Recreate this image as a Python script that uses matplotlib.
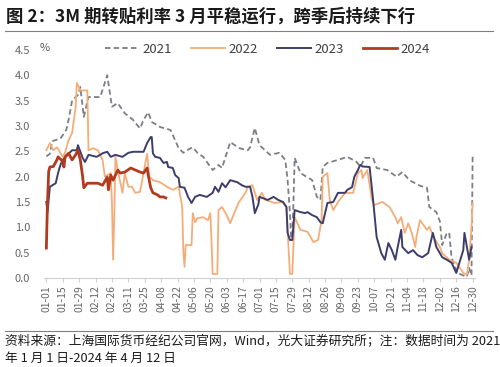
import matplotlib
matplotlib.use('Agg')
import matplotlib.pyplot as plt
from matplotlib.lines import Line2D

plt.rcParams['font.family'] = ['Noto Sans CJK SC', 'DejaVu Sans']

# day of year (0 = 01-01) and 3M 转贴现利率 (%)
days_2021 = [0, 3, 5, 12, 17, 19, 22, 25, 27, 29, 32, 36, 46, 52, 56, 61, 67, 74, 80, 83, 87, 90, 97,
             106, 108, 113, 117, 120, 125, 129, 134, 142, 147, 150, 157, 165, 172, 174, 178, 182, 191,
             199, 204, 206, 208, 209, 210, 211, 212, 217, 227, 231, 234, 236, 240, 249, 257, 265, 268,
             272, 279, 282, 291, 299, 304, 310, 319, 325, 327, 333, 336, 338, 342, 344, 346, 351, 359,
             361, 363, 364]
vals_2021 = [2.40, 2.45, 2.70, 2.75, 2.92, 3.12, 3.50, 3.57, 3.61, 3.77, 3.18, 3.57, 3.57, 4.00, 3.38,
             3.45, 3.25, 3.12, 2.95, 3.12, 3.27, 3.08, 2.98, 2.92, 2.82, 2.56, 2.47, 2.52, 2.58, 2.47,
             2.39, 2.13, 2.23, 2.17, 2.68, 2.56, 2.52, 2.58, 2.96, 2.62, 2.43, 2.47, 2.33, 1.93, 1.28,
             0.80, 0.80, 1.50, 2.37, 2.07, 1.93, 1.60, 1.54, 2.19, 2.27, 2.33, 2.39, 2.29, 2.19, 2.37,
             2.37, 2.17, 2.13, 2.00, 2.09, 1.93, 1.82, 1.78, 1.40, 1.30, 1.12, 0.65, 0.89, 0.89, 0.40,
             0.10, 0.02, 0.20, 0.05, 2.45]

days_2022 = [0, 3, 6, 9, 14, 16, 19, 22, 25, 26, 29, 35, 36, 40, 44, 48, 50, 55, 56, 57, 58, 59, 61,
             65, 67, 70, 73, 76, 80, 84, 86, 88, 91, 97, 103, 108, 113, 116, 117, 118, 119, 124, 125,
             127, 129, 134, 138, 140, 141, 142, 146, 147, 150, 154, 157, 159, 164, 170, 172, 176, 180,
             184, 187, 195, 202, 205, 207, 208, 210, 212, 217, 223, 228, 232, 235, 236, 240, 242, 245,
             249, 255, 262, 266, 269, 270, 274, 278, 280, 287, 293, 298, 300, 303, 306, 309, 312, 315,
             316, 319, 325, 327, 332, 336, 338, 344, 350, 356, 359, 361, 363, 364]
vals_2022 = [2.52, 2.66, 2.52, 2.58, 2.39, 2.47, 2.72, 2.86, 3.37, 3.85, 3.70, 3.70, 2.52, 2.56, 2.52,
             2.33, 2.00, 2.07, 1.50, 0.36, 1.20, 2.39, 2.13, 1.68, 2.07, 1.80, 1.80, 1.68, 1.70, 2.20,
             2.45, 2.00, 1.93, 1.89, 1.80, 1.74, 1.80, 1.40, 0.50, 0.22, 0.65, 0.65, 1.28, 1.10, 1.18,
             1.20, 1.14, 1.28, 0.75, 0.08, 0.08, 1.34, 1.40, 1.24, 1.08, 1.20, 1.48, 1.68, 1.80, 1.83,
             1.54, 1.68, 1.54, 1.48, 1.50, 1.40, 0.50, 0.08, 0.08, 1.20, 0.95, 0.91, 0.71, 0.75, 1.14,
             2.00, 2.07, 1.54, 1.34, 1.50, 1.68, 1.68, 2.07, 2.13, 1.97, 2.13, 1.54, 1.44, 1.50, 1.40,
             1.20, 1.08, 1.20, 0.89, 1.08, 0.89, 0.61, 0.81, 1.14, 0.95, 1.01, 0.75, 0.61, 0.49, 0.36,
             0.30, 0.10, 0.06, 0.36, 1.00, 1.48]

days_2023 = [0, 1, 3, 8, 10, 12, 14, 18, 22, 26, 27, 31, 33, 36, 43, 48, 52, 55, 59, 65, 70, 74, 83,
             86, 89, 90, 91, 93, 97, 100, 103, 104, 108, 110, 113, 114, 118, 121, 124, 127, 131, 137,
             142, 144, 147, 150, 153, 157, 163, 167, 170, 174, 176, 178, 181, 182, 189, 194, 198, 202,
             205, 206, 208, 210, 212, 217, 221, 223, 227, 231, 234, 236, 240, 245, 249, 255, 257, 261,
             263, 266, 268, 270, 276, 279, 282, 286, 289, 292, 295, 298, 300, 303, 304, 309, 313, 317,
             321, 326, 330, 333, 338, 342, 346, 350, 356, 357, 360, 361, 363]
vals_2023 = [1.50, 1.30, 1.80, 1.87, 2.07, 2.23, 2.33, 2.43, 2.52, 2.52, 2.62, 2.37, 2.29, 2.43, 2.39,
             2.46, 2.49, 2.39, 2.43, 2.39, 2.47, 2.49, 2.49, 2.66, 2.78, 2.78, 2.46, 2.39, 2.37, 2.27,
             2.29, 2.19, 2.17, 2.03, 1.97, 1.80, 1.78, 1.60, 1.48, 1.60, 1.64, 1.60, 1.68, 1.80, 1.70,
             1.87, 1.79, 1.93, 1.89, 1.83, 1.80, 1.80, 1.60, 1.28, 1.45, 1.60, 1.54, 1.60, 1.54, 1.50,
             1.40, 0.89, 0.75, 0.75, 1.34, 1.30, 1.28, 1.30, 1.24, 1.20, 1.10, 1.08, 1.48, 1.50, 1.68,
             1.68, 1.74, 1.79, 2.00, 2.13, 2.23, 2.20, 2.19, 1.54, 0.81, 0.49, 0.36, 0.69, 0.55, 0.36,
             0.61, 0.95, 0.61, 0.49, 0.55, 0.45, 0.41, 0.49, 0.89, 0.61, 0.41, 0.36, 0.30, 0.10, 0.55,
             0.89, 0.49, 0.36, 0.61]

days_2024 = [0, 1, 2, 3, 6, 9, 10, 14, 15, 16, 19, 22, 25, 27, 29, 31, 32, 35, 38, 44, 48, 52, 53, 55,
             57, 61, 63, 67, 72, 76, 80, 83, 86, 87, 89, 91, 95, 97, 100, 102]
vals_2024 = [0.59, 1.50, 2.10, 2.19, 2.20, 2.33, 2.39, 2.30, 2.19, 2.39, 2.46, 2.33, 2.43, 2.52, 2.33,
             2.00, 1.78, 1.87, 1.87, 1.87, 1.83, 1.99, 1.74, 2.03, 1.93, 2.13, 2.07, 2.09, 2.17, 2.13,
             2.09, 2.07, 2.17, 2.03, 1.79, 1.68, 1.64, 1.60, 1.60, 1.58]

tick_days = list(range(0, 365, 14))
tick_labels = ['01-01', '01-15', '01-29', '02-12', '02-26', '03-11', '03-25', '04-08', '04-22',
               '05-06', '05-20', '06-03', '06-17', '07-01', '07-15', '07-29', '08-12', '08-26',
               '09-09', '09-23', '10-07', '10-21', '11-04', '11-18', '12-02', '12-16', '12-30']

c21, c22, c23, c24 = '#7b7f86', '#f4ad79', '#3d3d6b', '#b23a1e'

fig = plt.figure(figsize=(5, 3.67), dpi=100)
ax = fig.add_axes([0.088, 0.2425, 0.862, 0.6215])

ax.plot(days_2021, vals_2021, color=c21, lw=1.3, linestyle=(0, (3, 1.8)))
ax.plot(days_2022, vals_2022, color=c22, lw=1.3)
ax.plot(days_2023, vals_2023, color=c23, lw=1.4)
ax.plot(days_2024, vals_2024, color=c24, lw=2.0)

ax.set_xlim(-2, 366)
ax.set_ylim(0, 4.5)
ax.set_yticks([0, 0.5, 1, 1.5, 2, 2.5, 3, 3.5, 4, 4.5])
ax.set_yticklabels(['0.0', '0.5', '1.0', '1.5', '2.0', '2.5', '3.0', '3.5', '4.0', '4.5'])
ax.set_xticks(tick_days)
ax.set_xticklabels(tick_labels, rotation=90)
ax.tick_params(axis='x', labelsize=7.5, colors='#666666', length=3, color='#d0d0d0', pad=2)
ax.tick_params(axis='y', labelsize=8, colors='#666666', length=0, pad=10)
for s in ['top', 'right', 'left']:
    ax.spines[s].set_visible(False)
ax.spines['bottom'].set_color('#d0d0d0')

fig.text(0.08, 0.870, '%', fontsize=8, color='#595959', va='center', ha='left')

handles = [Line2D([], [], color=c21, lw=1.3, linestyle=(0, (3, 1.8))),
           Line2D([], [], color=c22, lw=1.3),
           Line2D([], [], color=c23, lw=1.4),
           Line2D([], [], color=c24, lw=2.0)]
fig.legend(handles, ['2021', '2022', '2023', '2024'], loc='center', bbox_to_anchor=(0.535, 0.866),
           ncol=4, frameon=False, fontsize=9.5, handlelength=2.6, handletextpad=0.25,
           columnspacing=1.45, labelcolor='#404040')

fig.text(0.012, 0.955, '图 2：3M 期转贴利率 3 月平稳运行，跨季后持续下行',
         fontsize=12.5, fontweight='bold', color='#1a1a1a', va='center', ha='left')
fig.add_artist(Line2D([0.01, 0.986], [0.915, 0.915], color='#808080', lw=0.8))
fig.add_artist(Line2D([0.01, 0.986], [0.098, 0.098], color='#808080', lw=0.8))
fig.text(0.01, 0.072, '资料来源：上海国际货币经纪公司官网，Wind，光大证券研究所；注：数据时间为 2021',
         fontsize=9.2, color='#1a1a1a', va='center', ha='left')
fig.text(0.01, 0.024, '年 1 月 1 日-2024 年 4 月 12 日',
         fontsize=9.2, color='#1a1a1a', va='center', ha='left')

fig.savefig('out.png', dpi=100)
